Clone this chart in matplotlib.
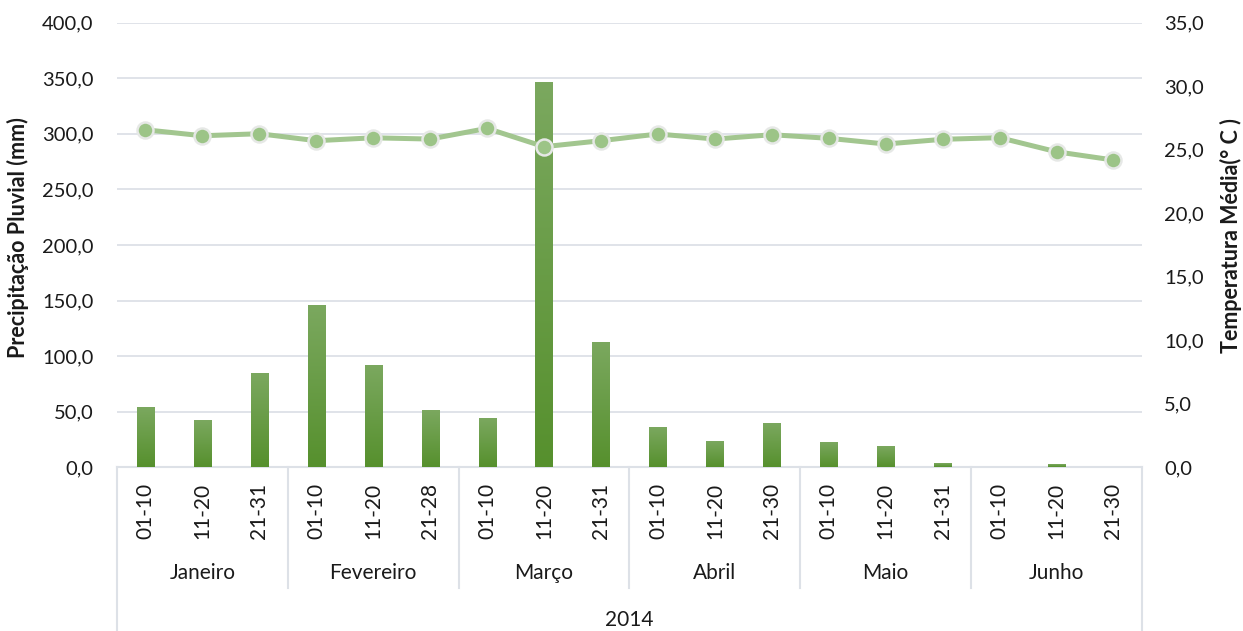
import matplotlib
matplotlib.use("Agg")
import matplotlib.pyplot as plt
import numpy as np
from matplotlib.ticker import FuncFormatter, MultipleLocator

plt.rcParams['font.family'] = ['Lato', 'DejaVu Sans']

### DATA
months = ['Janeiro', 'Fevereiro', 'Março', 'Abril', 'Maio', 'Junho']
periods = ['01-10', '11-20', '21-31',
           '01-10', '11-20', '21-28',
           '01-10', '11-20', '21-31',
           '01-10', '11-20', '21-30',
           '01-10', '11-20', '21-31',
           '01-10', '11-20', '21-30']
year = '2014'

precip = [53.3, 41.6, 83.9,
          145.0, 91.1, 50.6,
          43.4, 345.6, 111.8,
          35.3, 22.7, 38.9,
          21.9, 18.3, 3.0,
          0.0, 2.1, 0.0]

temp = [26.56, 26.09, 26.25,
        25.70, 25.93, 25.83,
        26.67, 25.23, 25.70,
        26.23, 25.83, 26.17,
        25.89, 25.44, 25.81,
        25.94, 24.83, 24.18]

# --------------------------- FIGURE ---------------------------
fig = plt.figure(figsize=(12.43, 6.31), dpi=100)
ax = fig.add_axes([0.0941, 0.2594, 0.8246, 0.7049])
ax2 = ax.twinx()

text_col = '#1a1a1a'
grid_col = '#dde1e7'
fs = 15

x = np.arange(len(precip))
bar_w = 0.30

# bars with vertical gradient (light on top, darker at bottom)
grad = np.linspace(0, 1, 256).reshape(-1, 1)
cmap = matplotlib.colors.LinearSegmentedColormap.from_list('g', ['#56902d', '#7ba85f'])
bars = ax.bar(x, precip, width=bar_w, color='none', edgecolor='none', zorder=2)
for b in bars:
    h = b.get_height()
    if h <= 0:
        continue
    x0 = b.get_x()
    ax.imshow(grad, cmap=cmap, origin='lower', aspect='auto',
              extent=[x0, x0 + bar_w, 0, h], zorder=2)

ax.set_xlim(-0.5, len(precip) - 0.5)
ax.set_ylim(0, 400)
ax.yaxis.set_major_locator(MultipleLocator(50))
ax.grid(axis='y', color=grid_col, linewidth=1.3, zorder=0)
ax.set_axisbelow(True)

# temperature line
ax2.plot(x, temp, color='#a2c68f', linewidth=3.6, marker='o', markersize=11.5,
         markerfacecolor='#9cc487', markeredgecolor='#e6e8e6', markeredgewidth=1.8,
         zorder=3)
ax2.set_ylim(0, 35)
ax2.yaxis.set_major_locator(MultipleLocator(5))

fmt = FuncFormatter(lambda v, p: f'{v:.1f}'.replace('.', ','))
ax.yaxis.set_major_formatter(fmt)
ax2.yaxis.set_major_formatter(fmt)

for a in (ax, ax2):
    for s in a.spines.values():
        s.set_visible(False)
    a.tick_params(axis='y', length=0, labelsize=14.5, labelcolor=text_col)
ax.tick_params(axis='y', pad=17)
ax2.tick_params(axis='y', pad=16)
ax.set_xticks([])

# --------------------------- MULTI-LEVEL X AXIS ---------------------------
tr = ax.get_xaxis_transform()
line_kw = dict(color=grid_col, linewidth=1.5, clip_on=False, transform=tr, zorder=1)
ax.plot([-0.5, len(precip) - 0.5], [0, 0], **line_kw)
ax.plot([-0.5, -0.5], [0, -0.368], **line_kw)
ax.plot([len(precip) - 0.5, len(precip) - 0.5], [0, -0.368], **line_kw)
for k in range(1, len(months)):
    xs = 3 * k - 0.5
    ax.plot([xs, xs], [0, -0.271], **line_kw)

for i, p in enumerate(periods):
    ax.text(i, -0.098, p, rotation=90, ha='center', va='center',
            fontsize=fs, color=text_col, transform=tr)
for k, m in enumerate(months):
    ax.text(3 * k + 1, -0.238, m, ha='center', va='center',
            fontsize=fs, color=text_col, transform=tr)
ax.text((len(precip) - 1) / 2, -0.343, year, ha='center', va='center',
        fontsize=fs, color=text_col, transform=tr)

# axis titles
fig.text(0.0145, 0.623, 'Precipitação Pluvial (mm)', rotation=90, ha='center', va='center',
         fontsize=15.5, fontweight='bold', color=text_col)
fig.text(0.990, 0.626, 'Temperatura Média(° C )', rotation=90, ha='center', va='center',
         fontsize=15.5, fontweight='bold', color=text_col)

fig.savefig('out.png', dpi=100, facecolor='white')
